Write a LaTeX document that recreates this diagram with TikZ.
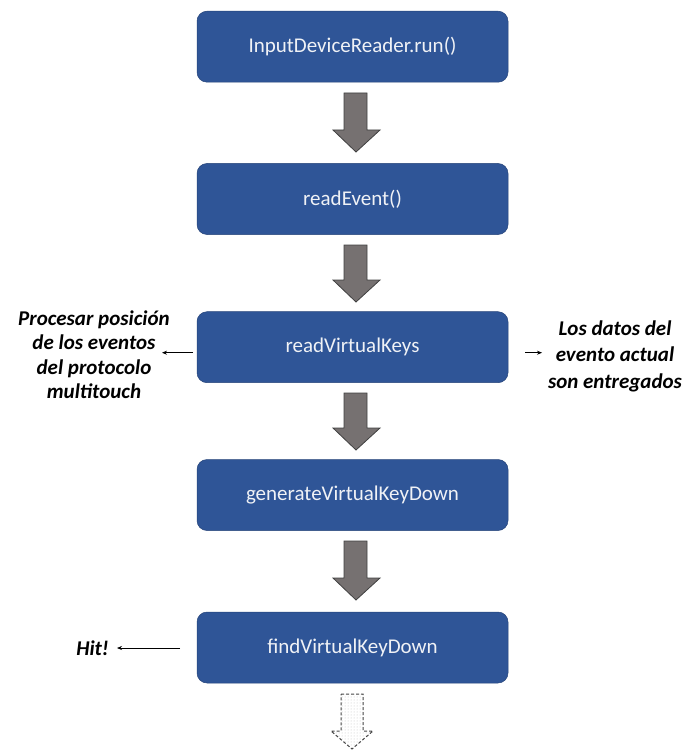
\documentclass[tikz,border=0pt]{standalone}
\usepackage{fontspec}
\setmainfont{Carlito}
\usetikzlibrary{patterns,arrows.meta}
\definecolor{boxblue}{RGB}{47,85,151}
\definecolor{boxtext}{RGB}{240,242,246}
\definecolor{flowgray}{RGB}{118,113,113}
\definecolor{flowedge}{RGB}{64,64,64}
\tikzset{
  stepbox/.style={draw=boxblue!80!black, line width=0.5pt, fill=boxblue, rounded corners=10pt,
    minimum width=311pt, minimum height=71pt, inner sep=0pt,
    text=boxtext, font=\fontsize{21}{24}\selectfont},
  note/.style={align=center, font=\fontsize{21}{24.5}\selectfont\bfseries\itshape, inner sep=0pt},
  flow/.style={fill=flowgray, draw=flowedge, line width=0.8pt, line join=miter},
  nextflow/.style={draw=gray!55!black, dash pattern=on 3pt off 2pt, line width=1pt,
    pattern=dots, pattern color=gray!50},
  side/.style={-{Stealth[length=5pt,width=4pt]}, line width=0.7pt},
}
\begin{document}
\begin{tikzpicture}[x=1pt,y=-1pt]
  \useasboundingbox (0,0) rectangle (686,751);
  % the processing chain
  \node[stepbox] (run)  at (352.5,46.7)  {InputDeviceReader.run()};
  \node[stepbox] (read) at (352.5,199)   {readEvent()};
  \node[stepbox] (keys) at (352.5,347.2) {readVirtualKeys};
  \node[stepbox] (gen)  at (352.5,495)   {generateVirtualKeyDown};
  \node[stepbox] (find) at (352.5,647.5) {findVirtualKeyDown};

  % block arrows between the steps: shaft 344..367, head 333..380
  \foreach \t/\b in {93/152, 245/302, 393/450, 541/600}{
    \pgfmathsetmacro{\h}{\b-22}
    \draw[flow] (344,\t) -- (367,\t) -- (367,\h) -- (380,\h) -- (356,\b)
      -- (333,\h) -- (344,\h) -- cycle;
  }
  % the chain continues
  \draw[nextflow] (341,694) -- (363,694) -- (363,731) -- (373,731) -- (352,749)
    -- (331,731) -- (341,731) -- cycle;

  % side notes
  \node[note] (pos) at (94,354.5) {Procesar posición\\de los eventos\\del protocolo\\multitouch};
  \node[note, font=\fontsize{21}{26.5}\selectfont\bfseries\itshape] (dat) at (615,356)
    {Los datos del\\evento actual\\son entregados};
  \node[note, anchor=east] (hit) at (109,648) {Hit!};
  \coordinate (keysL) at (193,352.7);
  \coordinate (keysR) at (525,352.7);
  \coordinate (findL) at (180,648);
  \draw[side] (keysL) -- (162,352.7);
  \draw[side] (keysR) -- (542,352.7);
  \draw[side] (findL) -- (117,648);
\end{tikzpicture}
\end{document}
